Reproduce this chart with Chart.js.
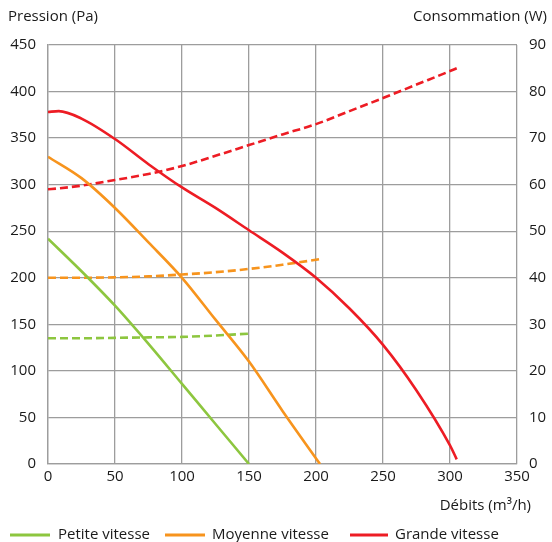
<!DOCTYPE html>
<html>
<head>
<meta charset="utf-8">
<script src="https://cdn.jsdelivr.net/npm/chart.js@4"></script>
<style>
  html, body { margin: 0; padding: 0; background: #fff; }
  #wrap { width: 552px; height: 542px; position: relative; }
</style>
</head>
<body>
<div id="wrap"><canvas id="courbes"></canvas></div>
<script>
// débits (m3/h) et pressions (Pa)
const petiteDebit = [0, 25, 50, 75, 100, 125, 150];
const petitePression = [242, 207, 170, 129, 86, 43, 0];
const petiteConso = [27, 27, 27.1, 27.2, 27.3, 27.6, 28];

const moyenneDebit = [0, 25, 50, 75, 100, 125, 150, 175, 203];
const moyennePression = [330, 307, 275, 238, 200, 155, 110, 57, 0];
const moyenneConso = [40, 40, 40.1, 40.3, 40.7, 41.2, 41.9, 42.8, 44];

const grandeDebit = [0, 8, 25, 50, 75, 100, 125, 150, 175, 200, 225, 250, 275, 300, 305];
const grandePression = [378, 379, 371, 349, 322, 297, 275, 251, 227, 200, 167, 128, 79, 20, 5];
const grandeConso = [59, 59.2, 59.8, 61, 62.3, 64, 66.2, 68.5, 70.8, 73, 75.8, 78.6, 81.5, 84.4, 85];

const vitesses = ['Petite vitesse', 'Moyenne vitesse', 'Grande vitesse'];
const couleurs = ['#8dc63f', '#f7941d', '#ed1c24'];

const debitTicks = [0, 50, 100, 150, 200, 250, 300, 350];
const pressionTicks = [0, 50, 100, 150, 200, 250, 300, 350, 400, 450];
const consoTicks = [0, 10, 20, 30, 40, 50, 60, 70, 80, 90];

const FONT = "'Open Sans', sans-serif";
const TXT = '#1a1a1a';

function pts(xs, ys) {
  return xs.map((x, i) => ({ x: x, y: ys[i] }));
}

function courbe(label, xs, ys, color, axis, dashed) {
  return {
    label: label,
    data: pts(xs, ys),
    yAxisID: axis,
    borderColor: color,
    backgroundColor: color,
    borderWidth: 2.6,
    borderDash: dashed ? [8, 4] : [],
    pointRadius: 0,
    cubicInterpolationMode: 'monotone',
    fill: false
  };
}

// textes des axes + légende en bas
const decor = {
  id: 'decor',
  afterDraw(chart) {
    const c = chart.ctx;
    c.save();
    c.fillStyle = TXT;
    c.font = '15px ' + FONT;
    c.textBaseline = 'middle';
    c.textAlign = 'left';
    c.fillText('Pression (Pa)', 8, 17);
    c.textAlign = 'right';
    c.fillText('Consommation (W)', 547, 17);
    c.fillText('Débits (m³/h)', 531, 506);

    const legende = [
      { x0: 10, x1: 50, tx: 58 },
      { x0: 165, x1: 205, tx: 212 },
      { x0: 350, x1: 388, tx: 395 }
    ];
    c.textAlign = 'left';
    legende.forEach((l, i) => {
      c.strokeStyle = couleurs[i];
      c.lineWidth = 3;
      c.beginPath();
      c.moveTo(l.x0, 535);
      c.lineTo(l.x1, 535);
      c.stroke();
      c.fillText(vitesses[i], l.tx, 535);
    });
    c.restore();
  }
};

const ctx = document.getElementById('courbes').getContext('2d');

new Chart(ctx, {
  type: 'line',
  data: {
    datasets: [
      courbe(vitesses[0], petiteDebit, petitePression, couleurs[0], 'y', false),
      courbe(vitesses[1], moyenneDebit, moyennePression, couleurs[1], 'y', false),
      courbe(vitesses[2], grandeDebit, grandePression, couleurs[2], 'y', false),
      courbe(vitesses[0] + ' (W)', petiteDebit, petiteConso, couleurs[0], 'y2', true),
      courbe(vitesses[1] + ' (W)', moyenneDebit, moyenneConso, couleurs[1], 'y2', true),
      courbe(vitesses[2] + ' (W)', grandeDebit, grandeConso, couleurs[2], 'y2', true)
    ]
  },
  options: {
    responsive: true,
    maintainAspectRatio: false,
    animation: false,
    layout: { padding: { top: 45, bottom: 0, left: 0, right: 0 } },
    plugins: {
      legend: { display: false },
      tooltip: { enabled: false }
    },
    scales: {
      x: {
        type: 'linear',
        min: 0,
        max: 350,
        afterBuildTicks: (axis) => { axis.ticks = debitTicks.map(v => ({ value: v })); },
        afterFit: (axis) => { axis.height = 78; },
        grid: { color: '#9d9d9d', lineWidth: 1.3, drawTicks: false },
        border: { color: '#9d9d9d', width: 1.3 },
        ticks: { color: TXT, font: { family: FONT, size: 15 }, padding: 4, maxRotation: 0 }
      },
      y: {
        position: 'left',
        min: 0,
        max: 450,
        afterBuildTicks: (axis) => { axis.ticks = pressionTicks.map(v => ({ value: v })); },
        afterFit: (axis) => { axis.width = 48; },
        grid: { color: '#9d9d9d', lineWidth: 1.3, drawTicks: false },
        border: { color: '#9d9d9d', width: 1.3 },
        ticks: { color: TXT, font: { family: FONT, size: 15 }, padding: 12 }
      },
      y2: {
        position: 'right',
        min: 0,
        max: 90,
        afterBuildTicks: (axis) => { axis.ticks = consoTicks.map(v => ({ value: v })); },
        afterFit: (axis) => { axis.width = 35; },
        grid: { display: false, drawTicks: false },
        border: { display: false },
        ticks: { color: TXT, font: { family: FONT, size: 15 }, padding: 12 }
      }
    }
  },
  plugins: [decor]
});
</script>
</body>
</html>
